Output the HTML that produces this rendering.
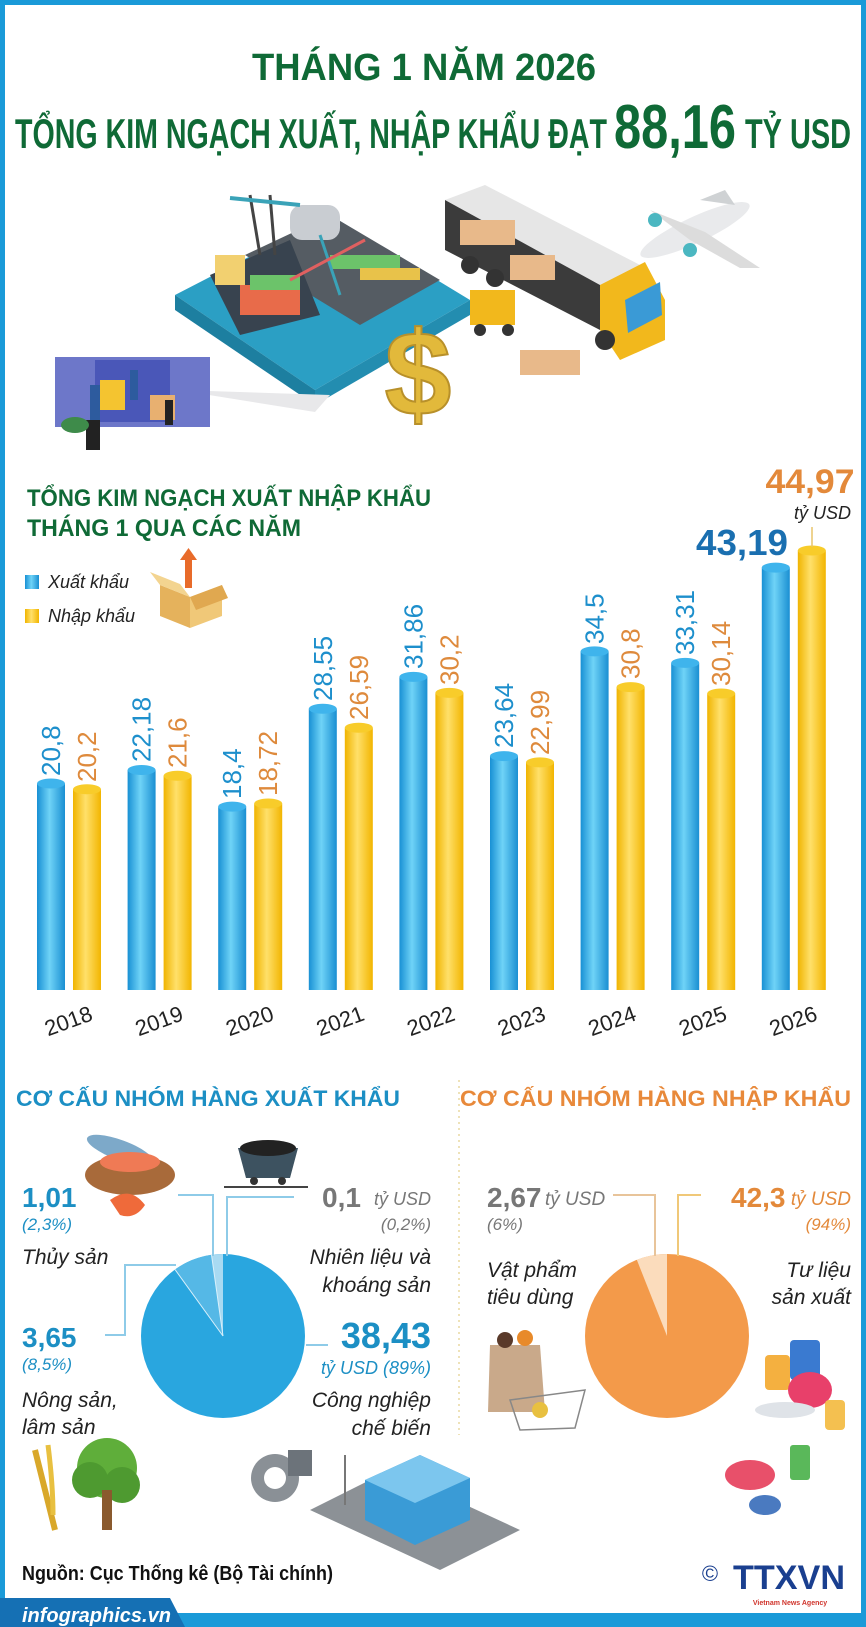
<!DOCTYPE html>
<html><head><meta charset="utf-8"><style>
html,body{margin:0;padding:0;background:#fff}
svg{display:block}
text{font-family:"Liberation Sans",sans-serif}
</style></head><body>
<svg width="866" height="1627" viewBox="0 0 866 1627" xmlns="http://www.w3.org/2000/svg">
<defs>
<linearGradient id="gb" x1="0" x2="1" y1="0" y2="0"><stop offset="0" stop-color="#1890d4"/><stop offset="0.45" stop-color="#6fd3f7"/><stop offset="1" stop-color="#1a8fd2"/></linearGradient>
<linearGradient id="gy" x1="0" x2="1" y1="0" y2="0"><stop offset="0" stop-color="#f0b400"/><stop offset="0.45" stop-color="#ffe06a"/><stop offset="1" stop-color="#f2b500"/></linearGradient>
</defs>
<rect x="0" y="0" width="866" height="1627" fill="#fff"/>
<!-- border -->
<rect x="2.5" y="2.5" width="861" height="1622" fill="none" stroke="#1a9ad8" stroke-width="5"/>

<!-- header -->
<text x="424" y="80" font-size="38" font-weight="bold" fill="#0f6a36" text-anchor="middle" textLength="344" lengthAdjust="spacingAndGlyphs">THÁNG 1 NĂM 2026</text>
<text x="15" y="148" font-size="42" font-weight="bold" fill="#0f6a36" textLength="592" lengthAdjust="spacingAndGlyphs">TỔNG KIM NGẠCH XUẤT, NHẬP KHẨU ĐẠT</text>
<text x="614" y="148" font-size="62" font-weight="bold" fill="#0f6a36" textLength="122" lengthAdjust="spacingAndGlyphs">88,16</text>
<text x="745" y="148" font-size="42" font-weight="bold" fill="#0f6a36" textLength="106" lengthAdjust="spacingAndGlyphs">TỶ USD</text>

<!-- illustrations top -->
<g>
 <polygon points="175,295 330,215 470,300 315,390" fill="#2b9fc4"/>
 <polygon points="175,295 315,390 315,405 175,310" fill="#1d7fa0"/>
 <polygon points="315,390 470,300 470,315 315,405" fill="#238db0"/>
 <polygon points="245,255 330,215 440,280 360,325" fill="#555c63"/>
 <polygon points="210,275 290,240 320,315 240,335" fill="#38434f"/>
 <rect x="215" y="255" width="30" height="30" fill="#f2d070"/>
 <rect x="240" y="285" width="60" height="30" fill="#e86b4a"/>
 <rect x="250" y="275" width="50" height="15" fill="#6cc36a"/>
 <rect x="330" y="255" width="70" height="14" fill="#6cc36a"/>
 <rect x="360" y="268" width="60" height="12" fill="#e8c24a"/>
 <rect x="290" y="205" width="50" height="35" rx="12" fill="#c9cdd2"/>
 <line x1="250" y1="195" x2="260" y2="255" stroke="#444" stroke-width="3"/>
 <line x1="270" y1="195" x2="275" y2="255" stroke="#444" stroke-width="3"/>
 <line x1="230" y1="198" x2="300" y2="205" stroke="#3aa3b8" stroke-width="4"/>
 <line x1="320" y1="235" x2="340" y2="295" stroke="#3aa3b8" stroke-width="3"/>
 <line x1="290" y1="280" x2="365" y2="240" stroke="#e06060" stroke-width="3"/>
 <polygon points="178,390 330,395 315,412" fill="#e8e8ea"/>
 <!-- dollar -->
 <text x="418" y="415" font-size="120" font-weight="bold" fill="#e2b93b" text-anchor="middle" stroke="#b8902a" stroke-width="2">$</text>
 <!-- truck -->
 <polygon points="445,200 485,185 640,265 600,285" fill="#e6e6e6"/>
 <polygon points="445,200 600,285 600,330 445,250" fill="#3b3b3b"/>
 <polygon points="600,285 640,265 640,310 600,330" fill="#cfcfcf"/>
 <rect x="460" y="220" width="55" height="25" fill="#e8b98a"/>
 <rect x="510" y="255" width="45" height="25" fill="#e8b98a"/>
 <polygon points="600,285 645,262 665,300 665,340 620,360 600,330" fill="#f2b81c"/>
 <polygon points="625,300 660,282 662,315 628,333" fill="#3a9ad6"/>
 <circle cx="470" cy="265" r="9" fill="#333"/><circle cx="495" cy="278" r="9" fill="#333"/><circle cx="605" cy="340" r="10" fill="#333"/>
 <rect x="470" y="290" width="45" height="35" fill="#f2b81c"/>
 <circle cx="480" cy="330" r="6" fill="#333"/><circle cx="508" cy="330" r="6" fill="#333"/>
 <rect x="520" y="350" width="60" height="25" fill="#e8b98a"/>
 <!-- plane -->
 <ellipse cx="695" cy="230" rx="60" ry="13" fill="#e9eaec" transform="rotate(-25 695 230)"/>
 <polygon points="650,210 705,232 760,268 740,268 690,240" fill="#dcdcdc"/>
 <polygon points="700,200 725,190 735,205" fill="#cfd2d4"/>
 <circle cx="655" cy="220" r="7" fill="#4bb7c1"/><circle cx="690" cy="250" r="7" fill="#4bb7c1"/>
 <!-- workers -->
 <rect x="55" y="357" width="155" height="70" fill="#6d77c9"/>
 <rect x="95" y="360" width="75" height="62" fill="#4a57b8"/>
 <rect x="100" y="380" width="25" height="30" fill="#f4c430"/>
 <rect x="150" y="395" width="25" height="25" fill="#e8b070"/>
 <rect x="90" y="385" width="10" height="40" fill="#2d5b9e"/>
 <rect x="130" y="370" width="8" height="30" fill="#2d5b9e"/>
 <rect x="165" y="400" width="8" height="25" fill="#222"/>
 <rect x="86" y="420" width="14" height="30" fill="#222"/>
 <ellipse cx="75" cy="425" rx="14" ry="8" fill="#3e8b4a"/>
</g>

<!-- chart title -->
<text x="27" y="506" font-size="24" font-weight="bold" fill="#0f6a36" textLength="404" lengthAdjust="spacingAndGlyphs">TỔNG KIM NGẠCH XUẤT NHẬP KHẨU</text>
<text x="27" y="536" font-size="24" font-weight="bold" fill="#0f6a36" textLength="274" lengthAdjust="spacingAndGlyphs">THÁNG 1 QUA CÁC NĂM</text>
<!-- legend -->
<rect x="25" y="575" width="14" height="14" fill="url(#gb)"/>
<text x="48" y="588" font-size="18" font-style="italic" fill="#222">Xuất khẩu</text>
<rect x="25" y="609" width="14" height="14" fill="url(#gy)"/>
<text x="48" y="622" font-size="18" font-style="italic" fill="#222">Nhập khẩu</text>
<!-- box icon -->
<polygon points="160,585 190,597 190,628 160,616" fill="#e5b25c"/>
<polygon points="190,597 222,585 222,616 190,628" fill="#f0c878"/>
<polygon points="150,572 160,585 190,597 180,584" fill="#f3d490"/>
<polygon points="190,597 222,585 228,598 196,610" fill="#e0a850"/>
<rect x="185" y="556" width="7" height="32" fill="#e86b2a"/>
<polygon points="180,560 188.5,548 197,560" fill="#e86b2a"/>

<!-- bars -->
<g id="bars"></g>
<g>
<!-- 2018 -->
<rect x="37" y="783.5" width="28" height="206.5" fill="url(#gb)"/><ellipse cx="51" cy="783.5" rx="14" ry="5" fill="#3fb4ec"/>
<rect x="73" y="789.3" width="28" height="200.7" fill="url(#gy)"/><ellipse cx="87" cy="789.3" rx="14" ry="5" fill="#f8cc2a"/>
<!-- 2019 -->
<rect x="127.6" y="770" width="28" height="220" fill="url(#gb)"/><ellipse cx="141.6" cy="770" rx="14" ry="5" fill="#3fb4ec"/>
<rect x="163.6" y="775.8" width="28" height="214.2" fill="url(#gy)"/><ellipse cx="177.6" cy="775.8" rx="14" ry="5" fill="#f8cc2a"/>
<!-- 2020 -->
<rect x="218.2" y="806.6" width="28" height="183.4" fill="url(#gb)"/><ellipse cx="232.2" cy="806.6" rx="14" ry="5" fill="#3fb4ec"/>
<rect x="254.2" y="803.5" width="28" height="186.5" fill="url(#gy)"/><ellipse cx="268.2" cy="803.5" rx="14" ry="5" fill="#f8cc2a"/>
<!-- 2021 -->
<rect x="308.8" y="708.8" width="28" height="281.2" fill="url(#gb)"/><ellipse cx="322.8" cy="708.8" rx="14" ry="5" fill="#3fb4ec"/>
<rect x="344.8" y="727.7" width="28" height="262.3" fill="url(#gy)"/><ellipse cx="358.8" cy="727.7" rx="14" ry="5" fill="#f8cc2a"/>
<!-- 2022 -->
<rect x="399.4" y="676.9" width="28" height="313.1" fill="url(#gb)"/><ellipse cx="413.4" cy="676.9" rx="14" ry="5" fill="#3fb4ec"/>
<rect x="435.4" y="692.9" width="28" height="297.1" fill="url(#gy)"/><ellipse cx="449.4" cy="692.9" rx="14" ry="5" fill="#f8cc2a"/>
<!-- 2023 -->
<rect x="490" y="756.1" width="28" height="233.9" fill="url(#gb)"/><ellipse cx="504" cy="756.1" rx="14" ry="5" fill="#3fb4ec"/>
<rect x="526" y="762.4" width="28" height="227.6" fill="url(#gy)"/><ellipse cx="540" cy="762.4" rx="14" ry="5" fill="#f8cc2a"/>
<!-- 2024 -->
<rect x="580.6" y="651.4" width="28" height="338.6" fill="url(#gb)"/><ellipse cx="594.6" cy="651.4" rx="14" ry="5" fill="#3fb4ec"/>
<rect x="616.6" y="687.1" width="28" height="302.9" fill="url(#gy)"/><ellipse cx="630.6" cy="687.1" rx="14" ry="5" fill="#f8cc2a"/>
<!-- 2025 -->
<rect x="671.2" y="662.9" width="28" height="327.1" fill="url(#gb)"/><ellipse cx="685.2" cy="662.9" rx="14" ry="5" fill="#3fb4ec"/>
<rect x="707.2" y="693.5" width="28" height="296.5" fill="url(#gy)"/><ellipse cx="721.2" cy="693.5" rx="14" ry="5" fill="#f8cc2a"/>
<!-- 2026 -->
<rect x="761.8" y="567.6" width="28" height="422.4" fill="url(#gb)"/><ellipse cx="775.8" cy="567.6" rx="14" ry="5" fill="#3fb4ec"/>
<rect x="797.8" y="550.5" width="28" height="439.5" fill="url(#gy)"/><ellipse cx="811.8" cy="550.5" rx="14" ry="5" fill="#f8cc2a"/>
</g>
<!-- rounded bottoms -->
<g fill="#fff"></g>

<!-- value labels -->
<g font-size="26">
<text transform="translate(60,776) rotate(-90)" fill="#1d8fcc">20,8</text>
<text transform="translate(96,782) rotate(-90)" fill="#de8a3c">20,2</text>
<text transform="translate(150.6,762) rotate(-90)" fill="#1d8fcc">22,18</text>
<text transform="translate(186.6,768) rotate(-90)" fill="#de8a3c">21,6</text>
<text transform="translate(241.2,799) rotate(-90)" fill="#1d8fcc">18,4</text>
<text transform="translate(277.2,796) rotate(-90)" fill="#de8a3c">18,72</text>
<text transform="translate(331.8,701) rotate(-90)" fill="#1d8fcc">28,55</text>
<text transform="translate(367.8,720) rotate(-90)" fill="#de8a3c">26,59</text>
<text transform="translate(422.4,669) rotate(-90)" fill="#1d8fcc">31,86</text>
<text transform="translate(458.4,685) rotate(-90)" fill="#de8a3c">30,2</text>
<text transform="translate(513,748) rotate(-90)" fill="#1d8fcc">23,64</text>
<text transform="translate(549,755) rotate(-90)" fill="#de8a3c">22,99</text>
<text transform="translate(603.6,644) rotate(-90)" fill="#1d8fcc">34,5</text>
<text transform="translate(639.6,679) rotate(-90)" fill="#de8a3c">30,8</text>
<text transform="translate(694.2,655) rotate(-90)" fill="#1d8fcc">33,31</text>
<text transform="translate(730.2,686) rotate(-90)" fill="#de8a3c">30,14</text>
</g>
<text x="742" y="555" font-size="36" font-weight="bold" fill="#1a6fb0" text-anchor="middle" textLength="92" lengthAdjust="spacingAndGlyphs">43,19</text>
<text x="810" y="493" font-size="34" font-weight="bold" fill="#e3893a" text-anchor="middle" textLength="89" lengthAdjust="spacingAndGlyphs">44,97</text>
<text x="851" y="519" font-size="18" font-style="italic" fill="#222" text-anchor="end">tỷ USD</text>
<line x1="812" y1="527" x2="812" y2="547" stroke="#e8c46a" stroke-width="1.5"/>

<!-- years -->
<g font-size="22" fill="#222" text-anchor="middle">
<text transform="translate(71,1028) rotate(-20)">2018</text>
<text transform="translate(161.6,1028) rotate(-20)">2019</text>
<text transform="translate(252.2,1028) rotate(-20)">2020</text>
<text transform="translate(342.8,1028) rotate(-20)">2021</text>
<text transform="translate(433.4,1028) rotate(-20)">2022</text>
<text transform="translate(524,1028) rotate(-20)">2023</text>
<text transform="translate(614.6,1028) rotate(-20)">2024</text>
<text transform="translate(705.2,1028) rotate(-20)">2025</text>
<text transform="translate(795.8,1028) rotate(-20)">2026</text>
</g>

<!-- section headers -->
<text x="16" y="1106" font-size="22" font-weight="bold" fill="#1c8fc4" textLength="384" lengthAdjust="spacingAndGlyphs">CƠ CẤU NHÓM HÀNG XUẤT KHẨU</text>
<text x="460" y="1106" font-size="22" font-weight="bold" fill="#e8893a" textLength="391" lengthAdjust="spacingAndGlyphs">CƠ CẤU NHÓM HÀNG NHẬP KHẨU</text>
<line x1="459" y1="1080" x2="459" y2="1435" stroke="#e8d9a0" stroke-width="1.5" stroke-dasharray="2,4"/>

<!-- fish basket & coal cart -->
<ellipse cx="130" cy="1175" rx="45" ry="20" fill="#a86a3a"/>
<ellipse cx="120" cy="1150" rx="35" ry="10" fill="#7da9c9" transform="rotate(20 120 1150)"/>
<ellipse cx="130" cy="1162" rx="30" ry="10" fill="#ef7a55"/>
<path d="M110,1200 q20,-15 35,5 q-10,15 -25,10 z" fill="#ef6a3a"/>
<polygon points="238,1148 298,1148 290,1178 246,1178" fill="#3d5260"/>
<ellipse cx="268" cy="1148" rx="28" ry="8" fill="#222"/>
<circle cx="254" cy="1181" r="4" fill="#333"/><circle cx="282" cy="1181" r="4" fill="#333"/>
<line x1="224" y1="1187" x2="308" y2="1187" stroke="#444" stroke-width="2"/>

<!-- left pie -->
<circle cx="223" cy="1336" r="82" fill="#29a6df"/>
<path d="M223,1336 L223,1254 A82,82 0 0,0 211.5,1254.8 Z" fill="#a8daf2"/>
<path d="M223,1336 L211.5,1254.8 A82,82 0 0,0 175,1269.5 Z" fill="#55b8e6"/>
<line x1="223" y1="1336" x2="211.5" y2="1254.8" stroke="#d9f0fb" stroke-width="1"/>
<line x1="223" y1="1336" x2="175" y2="1269.5" stroke="#d9f0fb" stroke-width="1"/>
<g fill="none" stroke="#8ecbe8" stroke-width="2">
<polyline points="178,1195 213,1195 213,1256"/>
<polyline points="294,1197 227,1197 227,1256"/>
<polyline points="105,1335 125,1335 125,1265 176,1265"/>
<polyline points="306,1345 328,1345"/>
</g>
<text x="22" y="1207" font-size="28" font-weight="bold" fill="#1c8fc4">1,01</text>
<text x="22" y="1230" font-size="17" font-style="italic" fill="#1c8fc4">(2,3%)</text>
<text x="22" y="1264" font-size="21" font-style="italic" fill="#222">Thủy sản</text>
<text x="22" y="1347" font-size="28" font-weight="bold" fill="#1c8fc4">3,65</text>
<text x="22" y="1370" font-size="17" font-style="italic" fill="#1c8fc4">(8,5%)</text>
<text x="22" y="1407" font-size="21" font-style="italic" fill="#222">Nông sản,</text>
<text x="22" y="1434" font-size="21" font-style="italic" fill="#222">lâm sản</text>
<text x="322" y="1207" font-size="28" font-weight="bold" fill="#777">0,1</text>
<text x="431" y="1205" font-size="18" font-style="italic" fill="#777" text-anchor="end">tỷ USD</text>
<text x="431" y="1230" font-size="17" font-style="italic" fill="#777" text-anchor="end">(0,2%)</text>
<text x="431" y="1264" font-size="21" font-style="italic" fill="#222" text-anchor="end">Nhiên liệu và</text>
<text x="431" y="1292" font-size="21" font-style="italic" fill="#222" text-anchor="end">khoáng sản</text>
<text x="431" y="1348" font-size="36" font-weight="bold" fill="#1c8fc4" text-anchor="end">38,43</text>
<text x="431" y="1374" font-size="18" font-style="italic" fill="#1c8fc4" text-anchor="end">tỷ USD (89%)</text>
<text x="431" y="1407" font-size="21" font-style="italic" fill="#222" text-anchor="end">Công nghiệp</text>
<text x="431" y="1435" font-size="21" font-style="italic" fill="#222" text-anchor="end">chế biến</text>

<!-- bottom-left illustrations -->
<path d="M35,1450 q10,40 20,80" stroke="#d9a82a" stroke-width="6" fill="none"/>
<path d="M48,1445 q5,40 5,70" stroke="#e8c040" stroke-width="5" fill="none"/>
<circle cx="107" cy="1468" r="30" fill="#5fae3a"/><circle cx="90" cy="1480" r="18" fill="#4e9a30"/><circle cx="122" cy="1485" r="18" fill="#4e9a30"/>
<rect x="102" y="1490" width="10" height="40" fill="#8a5a2e"/>
<circle cx="275" cy="1478" r="24" fill="#8a9096"/><circle cx="275" cy="1478" r="11" fill="#fff"/>
<rect x="288" y="1450" width="24" height="26" fill="#6c737a"/>
<polygon points="310,1510 390,1470 520,1530 440,1570" fill="#8c9196"/>
<polygon points="365,1480 420,1455 470,1478 470,1520 415,1545 365,1520" fill="#3a9bd6"/>
<polygon points="365,1480 420,1455 470,1478 415,1503" fill="#7cc6ee"/>
<line x1="345" y1="1455" x2="345" y2="1505" stroke="#777" stroke-width="2"/>

<!-- right pie -->
<circle cx="667" cy="1336" r="82" fill="#f39a4a"/>
<path d="M667,1336 L667,1254 A82,82 0 0,0 636.8,1259.8 Z" fill="#fbdcbc"/>
<g fill="none" stroke-width="2">
<polyline points="613,1195 655,1195 655,1256" stroke="#e8c49a"/>
<polyline points="701,1195 678,1195 678,1256" stroke="#f0c878"/>
</g>
<text x="487" y="1207" font-size="28" font-weight="bold" fill="#777">2,67</text>
<text x="545" y="1205" font-size="19" font-style="italic" fill="#777">tỷ USD</text>
<text x="487" y="1230" font-size="17" font-style="italic" fill="#777">(6%)</text>
<text x="487" y="1277" font-size="21" font-style="italic" fill="#222">Vật phẩm</text>
<text x="487" y="1304" font-size="21" font-style="italic" fill="#222">tiêu dùng</text>
<text x="731" y="1207" font-size="28" font-weight="bold" fill="#e3893a">42,3</text>
<text x="851" y="1205" font-size="19" font-style="italic" fill="#e3893a" text-anchor="end">tỷ USD</text>
<text x="851" y="1230" font-size="17" font-style="italic" fill="#e3893a" text-anchor="end">(94%)</text>
<text x="851" y="1277" font-size="21" font-style="italic" fill="#222" text-anchor="end">Tư liệu</text>
<text x="851" y="1304" font-size="21" font-style="italic" fill="#222" text-anchor="end">sản xuất</text>

<!-- groceries & spools -->
<polygon points="490,1345 540,1345 545,1412 488,1412" fill="#c9a98a"/>
<circle cx="505" cy="1340" r="8" fill="#5a3a2a"/><circle cx="525" cy="1338" r="8" fill="#e88a2a"/>
<polygon points="510,1400 585,1390 575,1428 520,1430" fill="none" stroke="#888" stroke-width="1.5"/>
<circle cx="540" cy="1410" r="8" fill="#e8c040"/>
<rect x="790" y="1340" width="30" height="40" rx="4" fill="#3a7ad0"/>
<rect x="765" y="1355" width="25" height="35" rx="4" fill="#f4b040"/>
<ellipse cx="810" cy="1390" rx="22" ry="18" fill="#e8406a"/>
<ellipse cx="785" cy="1410" rx="30" ry="8" fill="#dfe3e8"/>
<rect x="825" y="1400" width="20" height="30" rx="4" fill="#f4c050"/>
<rect x="790" y="1445" width="20" height="35" rx="3" fill="#5ab85a"/>
<ellipse cx="750" cy="1475" rx="25" ry="15" fill="#e8506a"/>
<ellipse cx="765" cy="1505" rx="16" ry="10" fill="#4a7ac0"/>

<!-- source -->
<text x="22" y="1580" font-size="20" font-weight="bold" fill="#111" textLength="311" lengthAdjust="spacingAndGlyphs">Nguồn: Cục Thống kê (Bộ Tài chính)</text>
<!-- logo -->
<text x="710" y="1581" font-size="22" fill="#1a3f8f" text-anchor="middle">©</text>
<text x="733" y="1589" font-size="34" font-weight="900" fill="#1a3f8f" textLength="112" lengthAdjust="spacingAndGlyphs">TTXVN</text>
<text x="790" y="1605" font-size="7" font-weight="bold" fill="#d0342c" text-anchor="middle">Vietnam News Agency</text>

<!-- footer -->
<rect x="0" y="1613" width="866" height="14" fill="#1a9ad8"/>
<polygon points="0,1598 170,1598 185,1627 0,1627" fill="#1570b4"/>
<text x="22" y="1622" font-size="20" font-weight="bold" font-style="italic" fill="#fff">infographics.vn</text>
</svg>
</body></html>
